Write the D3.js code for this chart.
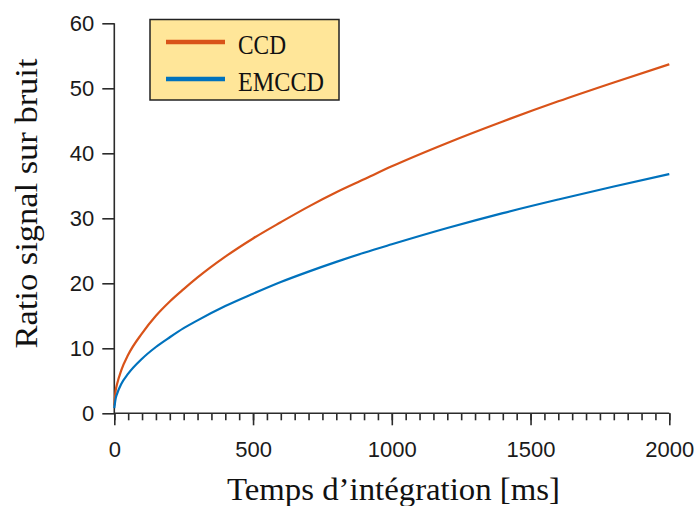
<!DOCTYPE html>
<html>
<head>
<meta charset="utf-8">
<script src="https://cdn.jsdelivr.net/npm/d3@7"></script>
<style>
  html, body { margin: 0; padding: 0; background: #fff; }
  svg { display: block; }
</style>
</head>
<body>
<svg id="chart" width="698" height="506"></svg>
<script>
// Integration times (ms) at which the signal-to-noise ratio is sampled
const times = [0, 5, 10, 25, 50, 100, 150, 200, 250, 300, 400, 500, 600, 700, 800, 900, 1000, 1200, 1400, 1600, 1800, 2000];
// Signal-to-noise ratio for each detector
const ccdSnr   = [1.2, 3.5, 4.5, 6.6, 9.0, 12.3, 15.0, 17.2, 19.1, 20.9, 24.1, 26.9, 29.4, 31.8, 34.0, 36.0, 38.0, 41.6, 44.9, 48.0, 50.9, 53.7];
const emccdSnr = [0.8, 2.3, 3.0, 4.5, 6.1, 8.4, 10.2, 11.7, 13.1, 14.3, 16.5, 18.4, 20.2, 21.8, 23.3, 24.7, 26.0, 28.5, 30.8, 32.9, 34.9, 36.8];
const seriesNames = ["CCD", "EMCCD"];
const seriesColors = ["#D95319", "#0072BD"];
const xTicks = [0, 500, 1000, 1500, 2000];
const yTicks = [0, 10, 20, 30, 40, 50, 60];

const svg = d3.select("#chart");

const x = d3.scaleLinear().domain([0, 2000]).range([114.3, 669.3]);
const y = d3.scaleLinear().domain([0, 60]).range([413.3, 23.3]);

const axisColor = "#2b2b2b";
const tickFont = "'Liberation Sans', Arial, sans-serif";
const titleFont = "'Liberation Serif', 'DejaVu Serif', serif";

// X axis: major ticks every 500 ms, minor every 50 ms, both pointing outward
const xAxisG = svg.append("g").attr("transform", `translate(0,${y(0)})`);
xAxisG.append("g")
  .call(d3.axisBottom(x).tickValues(d3.range(0, 2001, 50)).tickSize(7).tickFormat(""))
  .call(g => g.select(".domain").remove());
xAxisG.append("g")
  .call(d3.axisBottom(x).tickValues(xTicks).tickSize(12).tickPadding(16).tickFormat(d3.format("d")))
  .call(g => g.select(".domain").remove());
xAxisG.append("line")
  .attr("x1", x(0)).attr("x2", x(2000));
xAxisG.selectAll("line").attr("stroke", axisColor).attr("stroke-width", 1.6);
xAxisG.selectAll("text")
  .attr("fill", "#1a1a1a").attr("font-family", tickFont).attr("font-size", 22);

// Y axis: ticks pointing outward
const yAxisG = svg.append("g").attr("transform", `translate(${x(0)},0)`);
yAxisG.call(d3.axisLeft(y).tickValues(yTicks).tickSize(12).tickPadding(8).tickFormat(d3.format("d")));
yAxisG.select(".domain").remove();
yAxisG.append("line")
  .attr("y1", y(0)).attr("y2", y(60));
yAxisG.selectAll("line").attr("stroke", axisColor).attr("stroke-width", 1.6);
yAxisG.selectAll("text")
  .attr("fill", "#1a1a1a").attr("font-family", tickFont).attr("font-size", 22);

// Curves
const series = [ccdSnr, emccdSnr];
const line = d3.line()
  .x((d, i) => x(times[i]))
  .y(d => y(d))
  .curve(d3.curveMonotoneX);
svg.append("g").selectAll("path")
  .data(series)
  .join("path")
  .attr("d", d => line(d))
  .attr("fill", "none")
  .attr("stroke", (d, i) => seriesColors[i])
  .attr("stroke-width", 2.2);

// Axis titles
svg.append("text")
  .attr("x", 393.5)
  .attr("y", 500)
  .attr("text-anchor", "middle")
  .attr("font-family", titleFont)
  .attr("font-size", 32)
  .attr("textLength", 333)
  .attr("lengthAdjust", "spacingAndGlyphs")
  .attr("fill", "#111")
  .text("Temps d’intégration [ms]");
svg.append("text")
  .attr("transform", "translate(37,203.5) rotate(-90)")
  .attr("text-anchor", "middle")
  .attr("font-family", titleFont)
  .attr("font-size", 32)
  .attr("textLength", 290)
  .attr("lengthAdjust", "spacingAndGlyphs")
  .attr("fill", "#111")
  .text("Ratio signal sur bruit");

// Legend
const legend = svg.append("g");
legend.append("rect")
  .attr("x", 150).attr("y", 19.5).attr("width", 189).attr("height", 80.5)
  .attr("fill", "#FFE699").attr("stroke", "#222").attr("stroke-width", 1.5);
const legendLen = [48, 86];
seriesNames.forEach((name, i) => {
  const ly = 42 + i * 37;
  legend.append("line")
    .attr("x1", 166).attr("x2", 225).attr("y1", ly).attr("y2", ly)
    .attr("stroke", seriesColors[i]).attr("stroke-width", 4.5);
  legend.append("text")
    .attr("x", 238).attr("y", ly + 12)
    .attr("font-family", titleFont)
    .attr("font-size", 27)
    .attr("textLength", legendLen[i])
    .attr("lengthAdjust", "spacingAndGlyphs")
    .attr("fill", "#111")
    .text(name);
});
</script>
</body>
</html>
